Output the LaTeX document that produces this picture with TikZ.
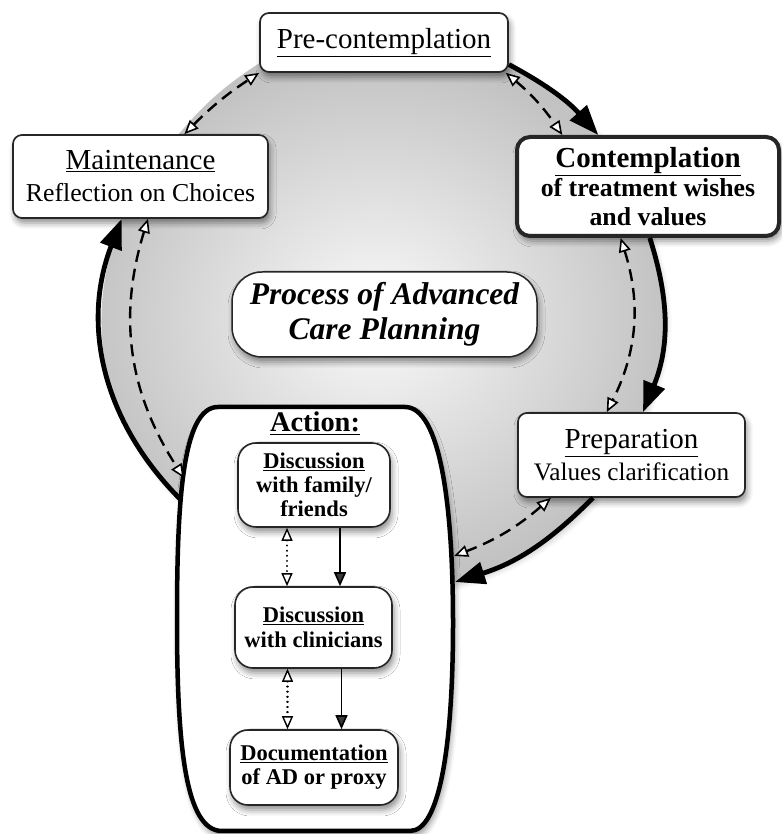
\documentclass[tikz,border=0pt]{standalone}
\usepackage{fontspec}
\setmainfont{Liberation Serif}
\usetikzlibrary{arrows.meta,shadows.blur,backgrounds,calc}
\definecolor{rimgray}{RGB}{194,194,194}
\definecolor{coregray}{RGB}{250,250,250}
\newcommand\mkhead[1]{{\fontsize{29}{32}\selectfont\underline{#1}}}
\begin{document}
\begin{tikzpicture}[x=1pt,y=1pt,
  shad/.style={blur shadow={shadow xshift=2pt,shadow yshift=-5pt,shadow blur radius=6pt,shadow opacity=45}},
  box/.style={draw=black!85,line width=1.7pt,rounded corners=9pt,fill=white,align=center,inner sep=0pt,shad},
  ibox/.style={draw=black!85,line width=1.6pt,rounded corners=18pt,fill=white,align=center,inner sep=0pt,shad,
     font=\bfseries\fontsize{22.5}{24}\selectfont},
  bigarrow/.style={line width=4.8pt,draw=black,-{Triangle[length=30pt,width=22pt]}},
  ddash/.style={line width=2.4pt,dash pattern=on 12pt off 7pt,
     {Triangle[fill=white,length=14pt,width=12pt,line width=1.6pt]}-{Triangle[fill=white,length=14pt,width=12pt,line width=1.6pt]}},
  sarrow/.style={line width=1.6pt,-{Triangle[length=14pt,width=12pt]}},
  darrow/.style={line width=2.2pt,line cap=round,dash pattern=on 0.1pt off 5pt,
     {Triangle[fill=white,length=13pt,width=11pt,line width=1.4pt,line cap=butt]}-{Triangle[fill=white,length=13pt,width=11pt,line width=1.4pt,line cap=butt]}}
]
\useasboundingbox (0,0) rectangle (781,834);

% Action container (barrel shape)
\path[shad,fill=white,draw=black,line width=4.5pt]
  (218,427) -- (405,427) .. controls (440,427) and (453,330) .. (453,211)
  .. controls (453,90) and (440,3) .. (410,3) -- (222,3)
  .. controls (185,3) and (177,90) .. (177,214)
  .. controls (177,330) and (182,427) .. (218,427) -- cycle;
\coordinate (aL1) at (181,334);
\coordinate (aL2) at (184,356);
\coordinate (aR1) at (455,252);
\coordinate (aR2) at (454,278);

% Stage boxes
\node[box,minimum width=248pt,minimum height=59pt] (pre) at (384,791.5) {\mkhead{Pre-contemplation}};
\node[box,minimum width=255pt,minimum height=83pt,font=\fontsize{25.8}{32}\selectfont] (maint) at (140.5,657.5)
  {\mkhead{Maintenance}\\Reflection on Choices};
\node[box,line width=4pt,rounded corners=13pt,minimum width=262pt,minimum height=99pt,font=\bfseries\fontsize{25.8}{29}\selectfont] (cont) at (648,647.5)
  {{\fontsize{29}{29}\selectfont\underline{Contemplation}}\\of treatment wishes\\and values};
\node[box,line width=1.5pt,rounded corners=30pt,minimum width=305pt,minimum height=85pt,font=\bfseries\itshape\fontsize{31.5}{35}\selectfont] (label) at (384.5,519.5)
  {Process of Advanced\\Care Planning};
\node[box,minimum width=227pt,minimum height=84pt,font=\fontsize{25.2}{32}\selectfont] (prep) at (631.5,379)
  {\mkhead{Preparation}\\Values clarification};

% Action content
\node[anchor=base,font=\bfseries\fontsize{28.4}{30}\selectfont,inner sep=0pt] (acttitle) at (315,402) {\underline{Action:}};
\node[ibox,minimum width=152pt,minimum height=84pt] (fam) at (314,349) {\underline{Discussion}\\with family/\\friends};
\node[ibox,minimum width=157pt,minimum height=81pt,font=\bfseries\fontsize{22.5}{25}\selectfont] (clin) at (313.5,206.5) {\underline{Discussion}\\with clinicians};
\node[ibox,minimum width=168pt,minimum height=75pt,font=\bfseries\fontsize{22.5}{24}\selectfont] (doc) at (314,66.5) {\underline{Documentation}\\of AD or proxy};

% Grey cycle region
\begin{scope}[on background layer]
\shade[inner color=coregray,outer color=rimgray,
       blur shadow={shadow xshift=3pt,shadow yshift=-4pt,shadow blur radius=5pt,shadow opacity=20}]
  (aL1) to[bend left=33] (maint.-114) -- (178,640) -- (178,699) to[bend left=8] (258,770)
  -- (384,780) -- (pre.-10) to[bend left=10] (cont.134) -- (648,640) -- (cont.-88)
  to[bend left=20] (prep.75) -- (600,380) -- (prep.-132) to[bend left=14] (aR1)
  -- (300,300) -- cycle;
\end{scope}

% Solid cycle arrows
\draw[bigarrow] (pre.-10) to[bend left=10] (cont.134);
\draw[bigarrow] (cont.-88) to[bend left=20] (prep.75);
\draw[bigarrow] (prep.-132) to[bend left=14] (aR1);
\draw[bigarrow] (aL1) to[bend left=33] (maint.-114);

% Dashed two-way arrows
\draw[ddash] (maint.44) to[bend left=6] (pre.south west);
\draw[ddash] (pre.-14) to[bend left=8] (cont.149);
\draw[ddash] (cont.-118) to[bend left=22] (prep.120);
\draw[ddash] (prep.-152) to[bend left=10] (aR2);
\draw[ddash] (maint.-80) to[bend right=25] (aL2);

% Arrows inside Action
\draw[sarrow] ([xshift=26pt]fam.south) -- ([xshift=26pt]fam.south |- clin.north);
\draw[darrow] ([xshift=-27pt]fam.south) -- ([xshift=-27pt]fam.south |- clin.north);
\draw[sarrow] ([xshift=28pt]clin.south) -- ([xshift=28pt]clin.south |- doc.north);
\draw[darrow] ([xshift=-26pt]clin.south) -- ([xshift=-26pt]clin.south |- doc.north);
\end{tikzpicture}
\end{document}
